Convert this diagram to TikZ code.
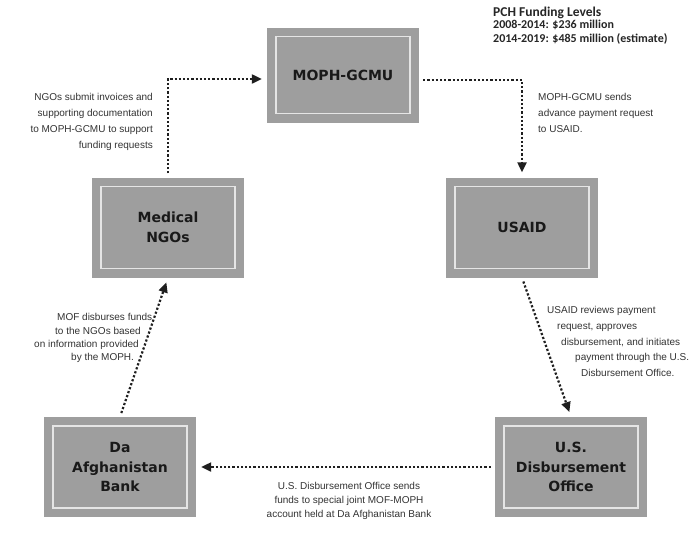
\documentclass[tikz,border=0pt]{standalone}
\usepackage{fontspec}
\setmainfont{Liberation Sans}
\newfontfamily\boxfont{DejaVu Sans}
\newfontfamily\hdrfont{Carlito}
\usetikzlibrary{arrows.meta,calc}
\tikzset{
  procbox/.style={fill=black!38, minimum width=152pt, minimum height=100pt,
    inner sep=0pt, align=center, text=black!90,
    font=\boxfont\bfseries\fontsize{14}{19.5}\selectfont,
    path picture={\draw[black!10, line width=1.3pt]
      ([shift={(9pt,9pt)}]path picture bounding box.south west) rectangle
      ([shift={(-9pt,-9pt)}]path picture bounding box.north east);}},
  flow/.style={draw=black!88, line width=2.2pt, dash pattern=on 2.2pt off 2pt,
    -{Triangle[length=10pt,width=9pt]}, shorten >=5pt, shorten <=4pt},
  lbl/.style={font=\fontsize{10}{12}\selectfont, text=black!80, inner sep=0pt},
  hdr/.style={font=\hdrfont\bfseries\fontsize{12}{14}\selectfont, text=black!85, inner sep=0pt, anchor=base west},
}
\begin{document}
\begin{tikzpicture}[x=1pt,y=-1pt]
\useasboundingbox[fill=white] (0,0) rectangle (693,546);

% boxes
\node[procbox, minimum height=95pt] (moph) at (343,75) {MOPH-GCMU};
\node[procbox] (ngo) at (168,227.5) {Medical\\NGOs};
\node[procbox] (usaid) at (522,227.5) {USAID};
\node[procbox] (bank) at (120,467) {Da\\Afghanistan\\Bank};
\node[procbox] (usdo) at (571,467) {U.S.\\Disbursement\\Office};

% connectors
\draw[flow] (ngo.north) |- ($(moph.west)+(0,4)$);
\draw[flow] ($(moph.east)+(0,5)$) -| (usaid.north);
\draw[flow] (usaid.south) -- (usdo.north);
\draw[flow] (usdo.west) -- (bank.east);
\draw[flow] (bank.north) -- (ngo.south);

% header
\node[hdr, font=\hdrfont\bfseries\fontsize{13.5}{15}\selectfont] (h1) at (493,16.5) {PCH Funding Levels};
\node[hdr] (h2) at (493,28.5) {2008-2014: \$236 million};
\node[hdr] (h3) at (493,42) {2014-2019: \$485 million (estimate)};

% NGOs submit label
\node[lbl, anchor=base east] (a1) at (153,100.5) {NGOs submit invoices and};
\node[lbl, anchor=base east] (a2) at (153,116.5) {supporting documentation};
\node[lbl, anchor=base east] (a3) at (153,132.5) {to MOPH-GCMU to support};
\node[lbl, anchor=base east] (a4) at (153,148.5) {funding requests};

% MOPH-GCMU sends label
\begin{scope}[every node/.append style={font=\fontsize{10.8}{12}\selectfont}]
\node[lbl, anchor=base west] (b1) at (538,100.5) {MOPH-GCMU sends};
\node[lbl, anchor=base west] (b2) at (538,116.5) {advance payment request};
\node[lbl, anchor=base west] (b3) at (538,132.5) {to USAID.};
\end{scope}

% USAID reviews label
\node[lbl, anchor=base west] (c1) at (547,313.5) {USAID reviews payment};
\node[lbl, anchor=base west] (c2) at (557,329.5) {request, approves};
\node[lbl, anchor=base west] (c3) at (561,345.5) {disbursement, and initiates};
\node[lbl, anchor=base west] (c4) at (575,360.5) {payment through the U.S.};
\node[lbl, anchor=base west] (c5) at (581,376.5) {Disbursement Office.};

% MOF disburses label
\begin{scope}[every node/.append style={font=\fontsize{9}{11}\selectfont}]
\node[lbl, anchor=base west] (d1) at (57,320.5) {MOF disburses funds};
\node[lbl, anchor=base west] (d2) at (55,334.5) {to the NGOs based};
\node[lbl, anchor=base west] (d3) at (34,347.5) {on information provided};
\node[lbl, anchor=base west] (d4) at (71,360.5) {by the MOPH.};
\end{scope}

% bottom label
\begin{scope}[every node/.append style={font=\fontsize{10.5}{12}\selectfont}]
\node[lbl, anchor=base] (e1) at (349,489.5) {U.S. Disbursement Office sends};
\node[lbl, anchor=base] (e2) at (349,503.5) {funds to special joint MOF-MOPH};
\node[lbl, anchor=base] (e3) at (349,517.5) {account held at Da Afghanistan Bank};
\end{scope}
\end{tikzpicture}
\end{document}
